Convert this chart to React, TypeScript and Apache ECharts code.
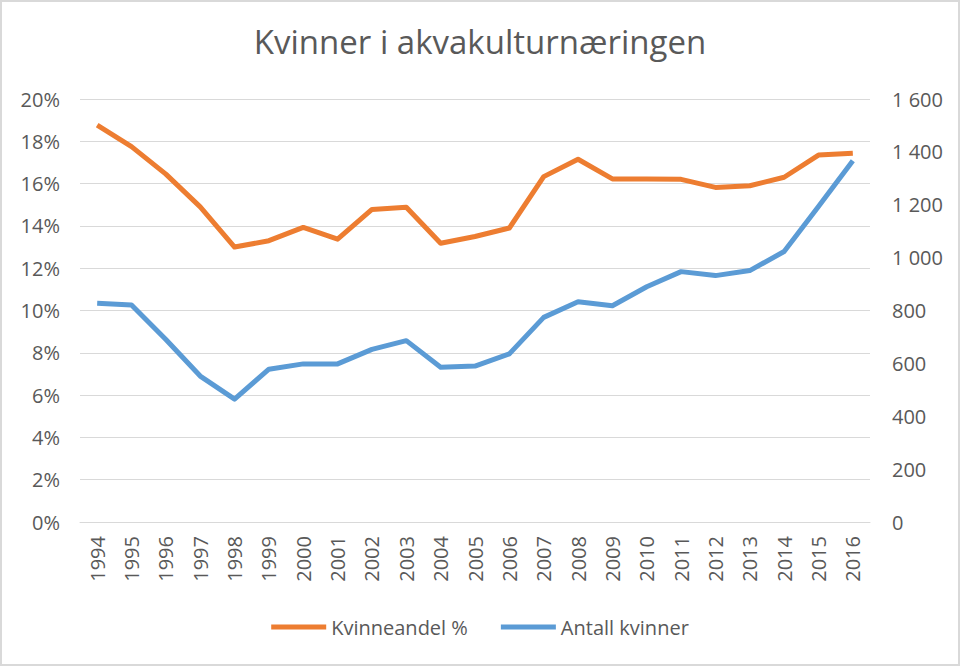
import React, { useEffect, useRef } from "react";
import * as echarts from "echarts";

const years = ["1994","1995","1996","1997","1998","1999","2000","2001","2002","2003","2004","2005","2006","2007","2008","2009","2010","2011","2012","2013","2014","2015","2016"];
const kvinneandel = [18.77,17.75,16.45,14.9,13.0,13.3,13.93,13.37,14.78,14.88,13.18,13.5,13.9,16.33,17.15,16.22,16.22,16.2,15.82,15.9,16.3,17.35,17.43];
const antallKvinner = [827,821,690,552,465,578,598,598,653,686,585,590,636,774,833,818,890,947,932,951,1023,1193,1366];
const leftTicks = { min: 0, max: 20, interval: 2 };
const rightTicks = { min: 0, max: 1600, interval: 200 };

const FONT = "'Open Sans', 'Noto Sans', sans-serif";
const TXT = "#595959";

export default function App() {
  const ref = useRef<HTMLDivElement>(null);
  useEffect(() => {
    if (!ref.current) return;
    const chart = echarts.init(ref.current, null, { renderer: "svg" });
    chart.setOption({
      animation: false,
      backgroundColor: "#ffffff",
      textStyle: { fontFamily: FONT },
      title: {
        text: "Kvinner i akvakulturnæringen",
        left: "center",
        top: 20,
        textStyle: { fontFamily: FONT, fontSize: 33, fontWeight: "normal", color: TXT },
      },
      graphic: [
        {
          type: "rect",
          shape: { x: 1, y: 1, width: 958, height: 664 },
          style: { fill: "none", stroke: "#d9d9d9", lineWidth: 2 },
          silent: true,
        },
      ],
      legend: {
        bottom: 24,
        left: "center",
        itemWidth: 55,
        itemHeight: 5,
        itemGap: 33,
        icon: "rect",
        textStyle: { fontFamily: FONT, fontSize: 20, color: TXT },
        data: ["Kvinneandel %", "Antall kvinner"],
      },
      grid: { left: 80, right: 90, top: 99, bottom: 144, containLabel: false },
      xAxis: {
        type: "category",
        data: years,
        boundaryGap: true,
        axisLine: { show: true, lineStyle: { color: "#d9d9d9", width: 1 } },
        axisTick: { show: false },
        axisLabel: { rotate: 90, color: TXT, fontSize: 20, fontFamily: FONT, margin: 14, interval: 0 },
      },
      yAxis: [
        {
          type: "value",
          min: leftTicks.min,
          max: leftTicks.max,
          interval: leftTicks.interval,
          axisLine: { show: false },
          axisTick: { show: false },
          splitLine: { lineStyle: { color: "#d9d9d9", width: 1 } },
          axisLabel: { color: TXT, fontSize: 20, fontFamily: FONT, margin: 20, formatter: (v: number) => `${v}%` },
        },
        {
          type: "value",
          min: rightTicks.min,
          max: rightTicks.max,
          interval: rightTicks.interval,
          axisLine: { show: false },
          axisTick: { show: false },
          splitLine: { show: false },
          axisLabel: {
            color: TXT,
            fontSize: 20,
            fontFamily: FONT,
            margin: 22,
            formatter: (v: number) => String(v).replace(/\B(?=(\d{3})+(?!\d))/g, " "),
          },
        },
      ],
      series: [
        {
          name: "Kvinneandel %",
          type: "line",
          yAxisIndex: 0,
          data: kvinneandel,
          symbol: "none",
          lineStyle: { color: "#ED7D31", width: 5, join: "round" },
          itemStyle: { color: "#ED7D31" },
        },
        {
          name: "Antall kvinner",
          type: "line",
          yAxisIndex: 1,
          data: antallKvinner,
          symbol: "none",
          lineStyle: { color: "#5B9BD5", width: 5, join: "round" },
          itemStyle: { color: "#5B9BD5" },
        },
      ],
    });
    return () => chart.dispose();
  }, []);
  return <div ref={ref} style={{ position: "absolute", left: 0, top: 0, width: 960, height: 666 }} />;
}
